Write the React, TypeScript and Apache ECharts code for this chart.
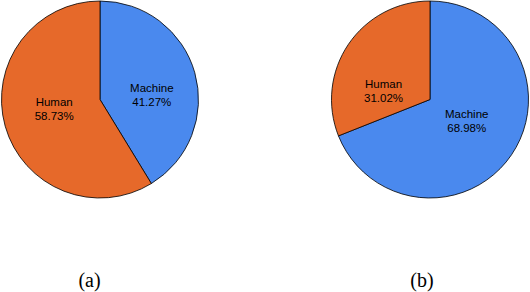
import React, { useEffect, useRef } from "react";
import * as echarts from "echarts";

const categories = ["Machine", "Human"];
const valuesA = [41.27, 58.73];
const valuesB = [68.98, 31.02];
const captions = ["(a)", "(b)"];
const colors = ["#4A89EE", "#E6692A"];

// label nudges (per category) for each pie
const nudgeA = [
  [1.5, 9.8],
  [4.5, -4.8],
];
const nudgeB = [
  [-6.5, -8.2],
  [-3.2, 21.0],
];

function pieSeries(values: number[], cx: number, nudge: number[][]) {
  return {
    type: "pie",
    center: [cx, 99.5],
    radius: 98.5,
    startAngle: 90,
    clockwise: true,
    avoidLabelOverlap: false,
    silent: true,
    percentPrecision: 2,
    data: categories.map((name, i) => ({
      name,
      value: values[i],
      itemStyle: { color: colors[i] },
    })),
    itemStyle: { borderColor: "#000", borderWidth: 0.8 },
    label: {
      show: true,
      position: "inside",
      formatter: "{b}\n{d}%",
      fontFamily: "Liberation Sans, Arial, sans-serif",
      fontSize: 11.5,
      lineHeight: 14,
      color: "#000",
      align: "center",
    },
    labelLine: { show: false },
    labelLayout: (p: any) => ({
      dx: nudge[p.dataIndex][0],
      dy: nudge[p.dataIndex][1],
    }),
    emphasis: { disabled: true },
  };
}

export default function App() {
  const ref = useRef<HTMLDivElement>(null);
  useEffect(() => {
    document.body.style.margin = "0";
    const chart = echarts.init(ref.current!, null, { renderer: "svg" });
    const captionStyle = {
      fontFamily: "Liberation Serif, Times New Roman, serif",
      fontSize: 20,
      fill: "#000",
      textAlign: "center",
      textVerticalAlign: "middle",
    };
    chart.setOption({
      animation: false,
      backgroundColor: "#fff",
      series: [pieSeries(valuesA, 100, nudgeA), pieSeries(valuesB, 430, nudgeB)],
      graphic: [
        { type: "text", x: 89.5, y: 280, style: { ...captionStyle, text: captions[0] } },
        { type: "text", x: 422, y: 280, style: { ...captionStyle, text: captions[1] } },
      ],
    });
    return () => chart.dispose();
  }, []);
  return <div ref={ref} style={{ width: 530, height: 292 }} />;
}
